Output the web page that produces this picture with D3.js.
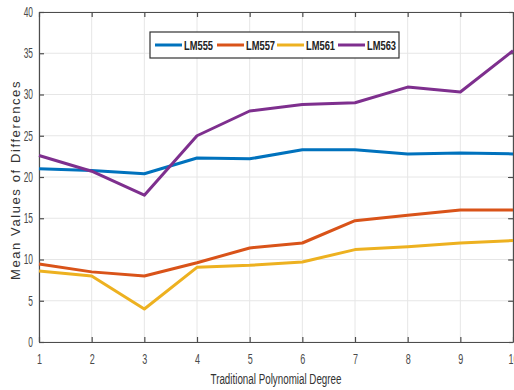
<!DOCTYPE html>
<html>
<head>
<meta charset="utf-8">
<script src="https://cdn.jsdelivr.net/npm/d3@7"></script>
<style>
  html, body { margin: 0; padding: 0; background: #fff; }
  svg { display: block; }
  .tick text { font-family: "Liberation Sans", Arial, sans-serif; fill: #4a4a4a; }
</style>
</head>
<body>
<svg id="chart" width="514" height="390"></svg>
<script>
// Polynomial degrees on the x axis
const degrees = [1, 2, 3, 4, 5, 6, 7, 8, 9, 10];

// Mean values of differences per series
const lm555 = [21.0, 20.8, 20.4, 22.3, 22.2, 23.3, 23.3, 22.8, 22.9, 22.8];
const lm557 = [9.45, 8.5, 8.0, 9.6, 11.4, 12.0, 14.7, 15.35, 16.0, 16.0];
const lm561 = [8.6, 8.0, 4.0, 9.05, 9.3, 9.7, 11.2, 11.55, 12.0, 12.3];
const lm563 = [22.6, 20.7, 17.8, 25.0, 28.0, 28.8, 29.0, 30.9, 30.3, 35.3];

const seriesNames = ["LM555", "LM557", "LM561", "LM563"];
const seriesColors = ["#0072BD", "#D95319", "#EDB120", "#7E2F8E"];
const seriesValues = [lm555, lm557, lm561, lm563];

const yTicks = [0, 5, 10, 15, 20, 25, 30, 35, 40];

const svg = d3.select("#chart");
const plotLeft = 39, plotRight = 513, plotTop = 12, plotBottom = 342;

const x = d3.scaleLinear().domain([1, 10]).range([plotLeft, plotRight]);
const y = d3.scaleLinear().domain([0, 40]).range([plotBottom, plotTop]);

// squeeze a text horizontally to imitate a condensed face
function condense(sel, factor) {
  sel.each(function () {
    const w = this.getComputedTextLength();
    d3.select(this).attr("textLength", w * factor).attr("lengthAdjust", "spacingAndGlyphs");
  });
}

// grid
const grid = svg.append("g");
grid.selectAll(".gx").data(degrees).join("line")
  .attr("x1", d => x(d)).attr("x2", d => x(d))
  .attr("y1", plotTop).attr("y2", plotBottom)
  .attr("stroke", "#e6e6e6").attr("stroke-width", 1);
grid.selectAll(".gy").data(yTicks).join("line")
  .attr("x1", plotLeft).attr("x2", plotRight)
  .attr("y1", d => y(d)).attr("y2", d => y(d))
  .attr("stroke", "#e6e6e6").attr("stroke-width", 1);

// axes with inward ticks
const axisColor = "#4d4d4d";
const bottomAxis = svg.append("g").attr("transform", `translate(0,${plotBottom})`)
  .call(d3.axisBottom(x).tickValues(degrees).tickFormat(d3.format("d")).tickSizeInner(-5).tickSizeOuter(0).tickPadding(11));
const topAxis = svg.append("g").attr("transform", `translate(0,${plotTop})`)
  .call(d3.axisTop(x).tickValues(degrees).tickFormat("").tickSizeInner(-5).tickSizeOuter(0));
const leftAxis = svg.append("g").attr("transform", `translate(${plotLeft},0)`)
  .call(d3.axisLeft(y).tickValues(yTicks).tickSizeInner(-5).tickSizeOuter(0).tickPadding(6));
const rightAxis = svg.append("g").attr("transform", `translate(${plotRight},0)`)
  .call(d3.axisRight(y).tickValues(yTicks).tickFormat("").tickSizeInner(-5).tickSizeOuter(0));

[bottomAxis, topAxis, leftAxis, rightAxis].forEach(g => {
  g.select(".domain").attr("stroke", axisColor).attr("stroke-width", 1.2);
  g.selectAll(".tick line").attr("stroke", axisColor).attr("stroke-width", 1.2);
});
bottomAxis.selectAll(".tick text").attr("font-size", 15).call(condense, 0.6);
leftAxis.selectAll(".tick text").attr("font-size", 14).call(condense, 0.6);

// series lines
const line = d3.line().x((d, i) => x(degrees[i])).y(d => y(d));
seriesValues.forEach((vals, k) => {
  svg.append("path").datum(vals)
    .attr("d", line)
    .attr("fill", "none")
    .attr("stroke", seriesColors[k])
    .attr("stroke-width", 3)
    .attr("stroke-linejoin", "round");
});

// legend
const legend = svg.append("g");
legend.append("rect")
  .attr("x", 150).attr("y", 32).attr("width", 249).attr("height", 26)
  .attr("fill", "#fff").attr("stroke", "#333").attr("stroke-width", 1.2);
const legendX = [155, 217, 277, 338];
seriesNames.forEach((name, k) => {
  legend.append("line")
    .attr("x1", legendX[k]).attr("x2", legendX[k] + 27)
    .attr("y1", 45).attr("y2", 45)
    .attr("stroke", seriesColors[k]).attr("stroke-width", 3);
  legend.append("text")
    .attr("x", legendX[k] + 29).attr("y", 50)
    .attr("font-family", "'Liberation Sans', Arial, sans-serif")
    .attr("font-weight", "bold")
    .attr("font-size", 13)
    .attr("fill", "#222")
    .text(name)
    .attr("textLength", 29).attr("lengthAdjust", "spacingAndGlyphs");
});

// axis titles
svg.append("text")
  .attr("x", (plotLeft + plotRight) / 2).attr("y", 384)
  .attr("text-anchor", "middle")
  .attr("font-family", "'Liberation Sans', Arial, sans-serif")
  .attr("font-size", 14)
  .attr("fill", "#333")
  .text("Traditional Polynomial Degree")
  .attr("textLength", 131).attr("lengthAdjust", "spacingAndGlyphs");

svg.append("text")
  .attr("transform", `translate(20,${(plotTop + plotBottom) / 2 + 3}) rotate(-90)`)
  .attr("text-anchor", "middle")
  .attr("font-family", "'Liberation Sans', Arial, sans-serif")
  .attr("font-size", 13)
  .attr("letter-spacing", 1.6)
  .attr("fill", "#333")
  .text("Mean Values of Differences");
</script>
</body>
</html>
